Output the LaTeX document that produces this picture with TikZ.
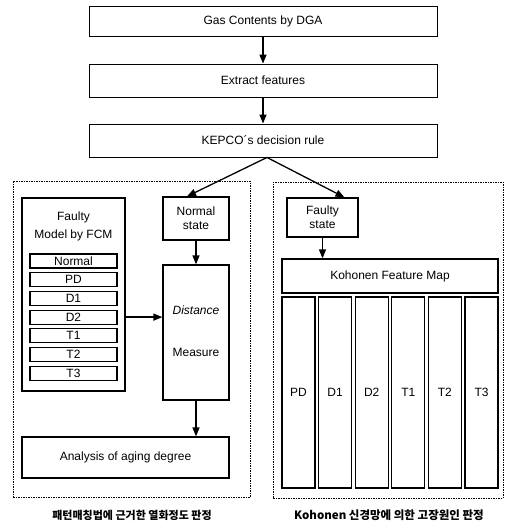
\documentclass[tikz,border=0pt]{standalone}
\usepackage{fontspec}
\setmainfont{Liberation Sans}
\newfontfamily\kr{Noto Sans CJK KR}
\usetikzlibrary{arrows.meta,calc}
\begin{document}
\begin{tikzpicture}[x=1pt,y=-1pt,
  every node/.style={font=\fontsize{12}{14}\selectfont, inner sep=0pt, align=center},
  topbox/.style={draw, line width=0.9pt, minimum width=348pt},
  box/.style={draw, line width=1.2pt},
  item/.style={draw, line width=1.2pt, minimum width=87pt, minimum height=14pt},
  col/.style={draw, line width=1.2pt, minimum width=33pt, minimum height=191pt},
  frame/.style={draw, line width=0.6pt, dash pattern=on 1.5pt off 1pt},
  arr/.style={line width=1.3pt, -{Triangle[length=9pt,width=7pt]}},
  captext/.style={font=\kr\bfseries\fontsize{11}{13}\selectfont}
]
\useasboundingbox (0,0) rectangle (505,530);
% top chain
\node[topbox, minimum height=30pt] (gas) at (263,21) {Gas Contents by DGA};
\node[topbox, minimum height=33pt] (ext) at (263,80.5) {Extract features};
\node[topbox, minimum height=33pt] (kep) at (263,140.5) {KEPCO´s decision rule};
\draw[arr] (gas) -- (ext);
\draw[arr] (ext) -- (kep);
% frames
\node[frame, minimum width=237pt, minimum height=316pt] (lf) at (131.5,339) {};
\node[frame, minimum width=230pt, minimum height=316pt] (rf) at (388,340) {};
% left part
\node[box, minimum width=66pt, minimum height=43pt] (ns) at (196,218.5) {Normal\\state};
\node[box, minimum width=66pt, minimum height=135pt] (dm) at (196,332.5) {};
\node (dt) at (196,310) {\itshape Distance};
\node (mt) at (196,352) {Measure};
\node[box, minimum width=103pt, minimum height=193pt] (fcm) at (73.5,294.5) {};
\node (fcmt) at (73.5,226) {Faulty\\[4pt]Model by FCM};
\node[item] (i0) at (73.5,261) {Normal};
\node[item] (i1) at (73.5,279.7) {PD};
\node[item] (i2) at (73.5,298.4) {D1};
\node[item] (i3) at (73.5,317.1) {D2};
\node[item] (i4) at (73.5,335.8) {T1};
\node[item] (i5) at (73.5,354.5) {T2};
\node[item] (i6) at (73.5,373.2) {T3};
\node[box, minimum width=207pt, minimum height=41pt] (an) at (125.5,457.5) {Analysis of aging degree};
\draw[arr] (ns) -- (dm);
\draw[arr] (fcm.east |- i3) -- (dm.west |- i3);
\draw[arr] (dm.south) -- (an.north -| dm.south);
% right part
\node[box, minimum width=71pt, minimum height=39pt] (fs) at (322.5,217.5) {Faulty\\state};
\node[box, minimum width=216pt, minimum height=34pt] (kfm) at (390,276) {Kohonen Feature Map};
\draw[arr] (fs) -- (kfm.north -| fs);
\node[col] (c1) at (298.5,392.5) {PD};
\node[col] (c2) at (335.1,392.5) {D1};
\node[col] (c3) at (371.7,392.5) {D2};
\node[col] (c4) at (408.3,392.5) {T1};
\node[col] (c5) at (444.9,392.5) {T2};
\node[col] (c6) at (481.5,392.5) {T3};
% split arrows
\coordinate (split) at ($(kep.south)+(4,0)$);
\draw[arr] (split) -- ($(ns.north)+(-9,0)$);
\draw[arr] (split) -- ($(fs.north)+(22,0)$);
% captions
\node[captext] (lc) at (132,515) {패턴매칭법에 근거한 열화정도 판정};
\node[captext, font=\kr\bfseries\fontsize{11.5}{13}\selectfont] (rc) at (389,515) {Kohonen 신경망에 의한 고장원인 판정};
\end{tikzpicture}
\end{document}
